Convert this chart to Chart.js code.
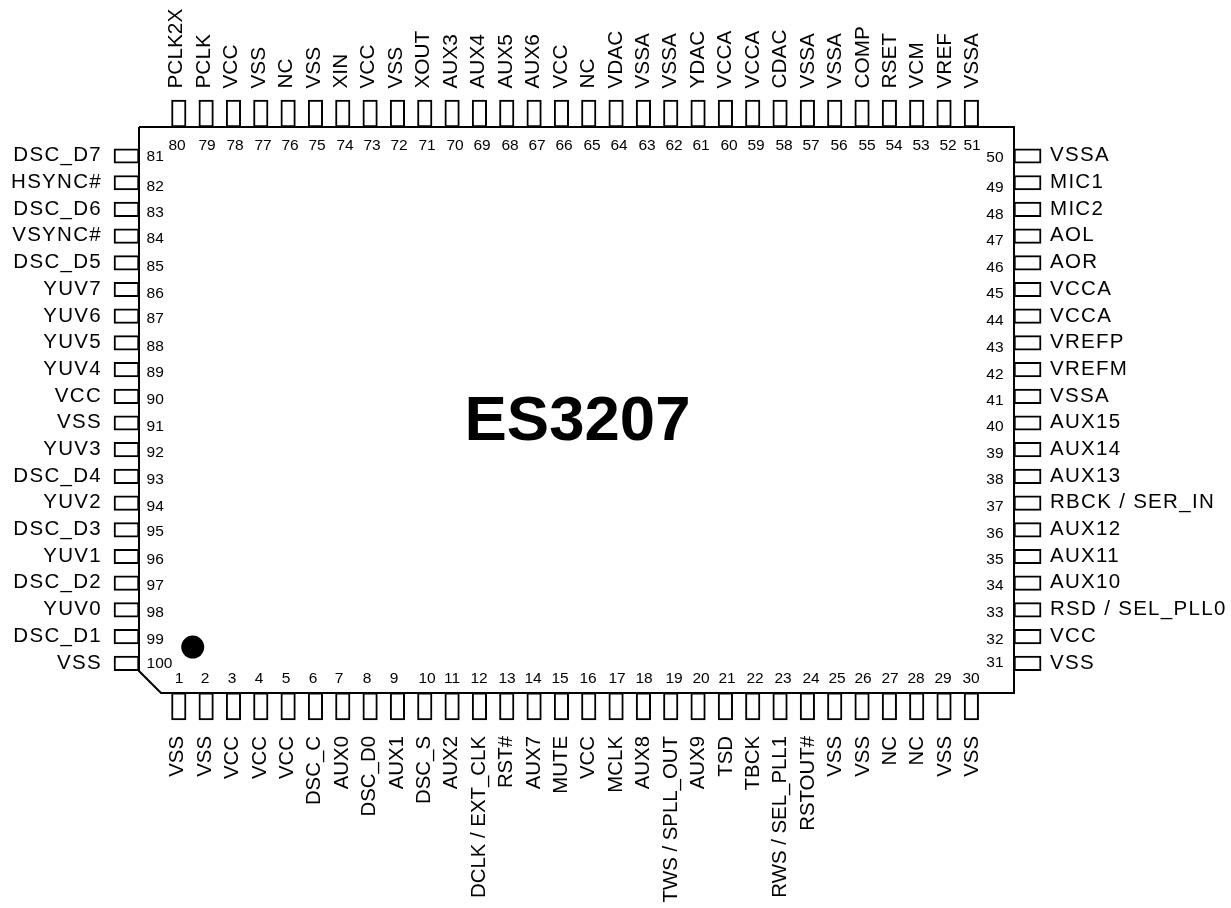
<!DOCTYPE html>
<html><head><meta charset="utf-8">
<style>html,body{margin:0;padding:0;background:#fff}canvas{display:block}</style>
<script src="https://cdn.jsdelivr.net/npm/chart.js@4"></script></head>
<body><canvas id="c" width="1231" height="908"></canvas>
<script>
const chipName = 'ES3207';
const topNumbers = [80,79,78,77,76,75,74,73,72,71,70,69,68,67,66,65,64,63,62,61,60,59,58,57,56,55,54,53,52,51];
const topNames = ['PCLK2X','PCLK','VCC','VSS','NC','VSS','XIN','VCC','VSS','XOUT','AUX3','AUX4','AUX5','AUX6','VCC','NC','VDAC','VSSA','VSSA','YDAC','VCCA','VCCA','CDAC','VSSA','VSSA','COMP','RSET','VCM','VREF','VSSA'];
const bottomNumbers = [1,2,3,4,5,6,7,8,9,10,11,12,13,14,15,16,17,18,19,20,21,22,23,24,25,26,27,28,29,30];
const bottomNames = ['VSS','VSS','VCC','VCC','VCC','DSC_C','AUX0','DSC_D0','AUX1','DSC_S','AUX2','DCLK / EXT_CLK','RST#','AUX7','MUTE','VCC','MCLK','AUX8','TWS / SPLL_OUT','AUX9','TSD','TBCK','RWS / SEL_PLL1','RSTOUT#','VSS','VSS','NC','NC','VSS','VSS'];
const leftNumbers = [81,82,83,84,85,86,87,88,89,90,91,92,93,94,95,96,97,98,99,100];
const leftNames = ['DSC_D7','HSYNC#','DSC_D6','VSYNC#','DSC_D5','YUV7','YUV6','YUV5','YUV4','VCC','VSS','YUV3','DSC_D4','YUV2','DSC_D3','YUV1','DSC_D2','YUV0','DSC_D1','VSS'];
const rightNumbers = [50,49,48,47,46,45,44,43,42,41,40,39,38,37,36,35,34,33,32,31];
const rightNames = ['VSSA','MIC1','MIC2','AOL','AOR','VCCA','VCCA','VREFP','VREFM','VSSA','AUX15','AUX14','AUX13','RBCK / SER_IN','AUX12','AUX11','AUX10','RSD / SEL_PLL0','VCC','VSS'];
// package outline and pin extents, in pin-slot units
const bodyX = [-0.456,31.56,31.56,0.349,-0.456,-0.456];
const bodyY = [-0.086,-0.086,21.11,21.11,20.288,-0.086];
const pinOuterTop = -1.097, pinOuterBottom = 22.12, pinOuterLeft = -1.37, pinOuterRight = 32.55;
const dotX = 1.51, dotY = 19.39;
// hand-placed pin-number text anchors, as in the original drawing
const topNumberAnchors = [177,207,235,263,290,317,345,372,399,427,455,482,510,537,564,592,619,647,674,701,729,756,784,811,839,867,894,921,948,972];
const bottomNumberAnchors = [179,205,232,259,286,313,339,367,394,427,452,479,507,533,560,588,617,644,674,701,727,755,783,811,837,863,890,916,943,971];
const leftNumberBaselines = [160.7,190.7,216.7,243.3,270.7,297.7,323.3,350.7,377.3,404.3,430.7,456.7,483.7,510.7,536.3,563.7,590.3,617,643.7,668.3];
const rightNumberBaselines = [161.7,192.3,219.3,245.3,272.3,298.3,325,352,378.7,405,431,457.7,484.3,511,537.7,564.3,590.3,617.3,643.7,666.7];

const slots = a => a.map((_, i) => i + 1);
const barStyle = {type:'bar',xAxisID:'x',yAxisID:'y',backgroundColor:'#fff',borderColor:'#000',borderWidth:2,borderSkipped:false,barThickness:14.5,grouped:false,order:3};
const FONT = '"Liberation Sans", Arial, sans-serif';

const labelsPlugin = {
  id:'pinLabels',
  afterDatasetsDraw(chart){
    const {ctx, scales:{y}} = chart;
    ctx.save();
    ctx.fillStyle = '#000';
    ctx.textBaseline = 'alphabetic';
    // horizontal pin names
    ctx.font = '20.5px ' + FONT;
    ctx.letterSpacing = '1.3px';
    ctx.textAlign = 'right';
    leftNames.forEach((n,i)=>ctx.fillText(n, 102, y.getPixelForValue(i+1)+5.3));
    ctx.textAlign = 'left';
    rightNames.forEach((n,i)=>ctx.fillText(n, 1050, y.getPixelForValue(i+1)+5.3));
    ctx.letterSpacing = '0px';
    // vertical pin names
    const vtext = (n, px, py, align) => {
      ctx.save(); ctx.translate(px, py); ctx.rotate(-Math.PI/2);
      ctx.textAlign = align; ctx.fillText(n, 0, 0); ctx.restore();
    };
    ctx.font = '20.8px ' + FONT;
    topNames.forEach((n,i)=>vtext(n, 182.3+27.45*i, 88.5, 'left'));
    ctx.font = '20.4px ' + FONT;
    bottomNames.forEach((n,i)=>vtext(n, 183.3+27.41*i, 736, 'right'));
    // pin numbers
    ctx.font = '15.5px ' + FONT;
    ctx.textAlign = 'center';
    topNumbers.forEach((n,i)=>ctx.fillText(n, topNumberAnchors[i], 150));
    bottomNumbers.forEach((n,i)=>ctx.fillText(n, bottomNumberAnchors[i], 683));
    ctx.textAlign = 'left';
    leftNumbers.forEach((n,i)=>ctx.fillText(n, 146.6, leftNumberBaselines[i]));
    ctx.textAlign = 'right';
    rightNumbers.forEach((n,i)=>ctx.fillText(n, 1003.6, rightNumberBaselines[i]));
    // chip name
    ctx.font = 'bold 63.5px ' + FONT;
    ctx.textAlign = 'center';
    ctx.fillText(chipName, 577.5, 440);
    ctx.restore();
  }
};

new Chart(document.getElementById('c'), {
  data:{datasets:[
    Object.assign({label:'Top pins',data:slots(topNames).map(s=>({x:s,y:[pinOuterTop,bodyY[0]]}))},barStyle),
    Object.assign({label:'Bottom pins',data:slots(bottomNames).map(s=>({x:s,y:[bodyY[2],pinOuterBottom]}))},barStyle),
    Object.assign({label:'Left pins',indexAxis:'y',data:slots(leftNames).map(s=>({y:s,x:[pinOuterLeft,bodyX[0]]}))},barStyle),
    Object.assign({label:'Right pins',indexAxis:'y',data:slots(rightNames).map(s=>({y:s,x:[bodyX[1],pinOuterRight]}))},barStyle),
    {type:'scatter',label:'Package',xAxisID:'x',yAxisID:'y',showLine:true,fill:false,borderColor:'#000',borderWidth:2,pointRadius:0,order:1,
     data:bodyX.map((v,i)=>({x:v,y:bodyY[i]}))},
    {type:'scatter',label:'Pin 1 mark',xAxisID:'x',yAxisID:'y',pointRadius:11.5,backgroundColor:'#000',borderWidth:0,order:0,
     data:[{x:dotX,y:dotY}]}
  ]},
  options:{
    responsive:false,animation:false,
    layout:{padding:0,autoPadding:false},
    plugins:{legend:{display:false},tooltip:{enabled:false},title:{display:false}},
    scales:{
      x:{type:'linear',display:false,offset:false,min:-5.542,max:39.5,grid:{display:false}},
      y:{type:'linear',display:false,offset:false,reverse:true,min:-4.843,max:29.165,grid:{display:false}}
    }
  },
  plugins:[labelsPlugin]
});
</script></body></html>
